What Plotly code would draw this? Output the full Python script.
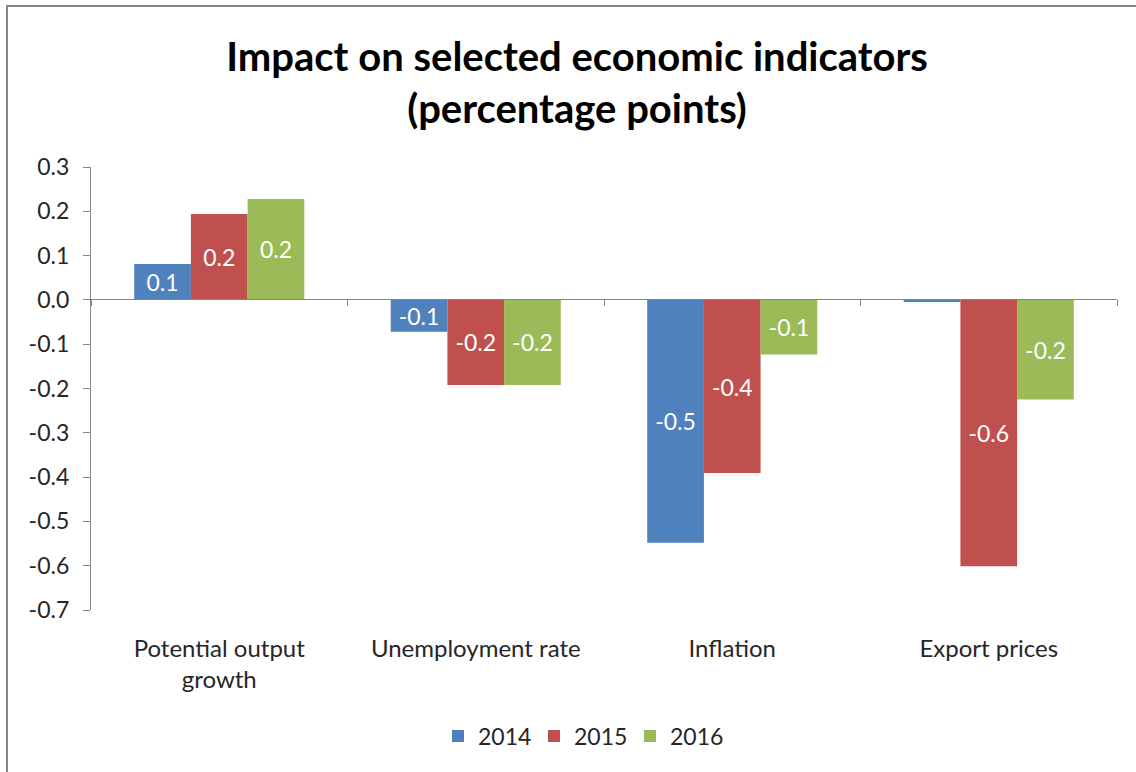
import plotly.graph_objects as go

categories = ["Potential output<br>growth", "Unemployment rate", "Inflation", "Export prices"]
years = ["2014", "2015", "2016"]
values_2014 = [0.081, -0.072, -0.548, -0.005]
values_2015 = [0.194, -0.192, -0.391, -0.601]
values_2016 = [0.228, -0.192, -0.123, -0.225]
series = [values_2014, values_2015, values_2016]
colors = ["#4F81BD", "#C0504D", "#9BBB59"]
ytick_vals = [0.3, 0.2, 0.1, 0.0, -0.1, -0.2, -0.3, -0.4, -0.5, -0.6, -0.7]
ytick_text = ["0.3", "0.2", "0.1", "0.0", "-0.1", "-0.2", "-0.3", "-0.4", "-0.5", "-0.6", "-0.7"]

FONT = "Lato"
AXIS_GRAY = "#868686"
TEXT = "#262626"
W, H = 1136, 772

fig = go.Figure()
for name, vals, col in zip(years, series, colors):
    labels = [f"{v:.1f}" if abs(v) >= 0.05 else "" for v in vals]
    fig.add_trace(go.Bar(
        x=categories, y=vals, name=name,
        marker=dict(color=col, line=dict(width=0)),
        text=labels, textposition="inside", insidetextanchor="middle",
        textfont=dict(family=FONT, size=23, color="white"),
        constraintext="none", cliponaxis=False,
    ))

# helper trace to build the zero-line axis with boundary ticks
fig.add_trace(go.Scatter(
    x=categories, y=[0] * len(categories), xaxis="x2", yaxis="y",
    mode="markers", marker=dict(opacity=0), showlegend=False, hoverinfo="skip",
))

# helper trace so the frame axes (x3/y3) are drawn
fig.add_trace(go.Scatter(
    x=[0.5], y=[0.5], xaxis="x3", yaxis="y3",
    mode="markers", marker=dict(opacity=0), showlegend=False, hoverinfo="skip",
))

plot_left, plot_right, plot_top, plot_bottom = 91, 1117, 167, 610
dom_x = [plot_left / W, plot_right / W]
dom_y = [1 - plot_bottom / H, 1 - plot_top / H]
zero_pos = 1 - 299 / H

fig.update_layout(
    width=W, height=H,
    margin=dict(l=0, r=0, t=0, b=0),
    paper_bgcolor="white", plot_bgcolor="rgba(0,0,0,0)",
    barmode="group", bargap=0.337, bargroupgap=0,
    title=dict(
        text="Impact on selected economic indicators<br>(percentage points)",
        font=dict(family=FONT, size=40, color="black", weight="bold"),
        x=0.508, xanchor="center", y=0.908, yanchor="middle",
    ),
    font=dict(family=FONT, size=23, color=TEXT),
    xaxis=dict(
        domain=dom_x, anchor="y",
        type="category", showline=False, ticks="", showgrid=False, zeroline=False,
        tickfont=dict(family=FONT, size=24, color=TEXT),
        ticklabelstandoff=22, automargin=False,
    ),
    xaxis2=dict(
        domain=dom_x,
        type="category", overlaying="x", anchor="free", position=zero_pos, side="bottom",
        showline=True, linecolor=AXIS_GRAY, linewidth=1.3,
        ticks="outside", ticklen=6, tickcolor=AXIS_GRAY, tickwidth=1.3,
        tickson="boundaries", showticklabels=False, showgrid=False, zeroline=False,
        matches="x", automargin=False,
    ),
    yaxis=dict(
        domain=dom_y, anchor="x",
        range=[-0.7, 0.3], tickvals=ytick_vals, ticktext=ytick_text,
        showline=True, linecolor=AXIS_GRAY, linewidth=1.3,
        ticks="outside", ticklen=7, tickcolor=AXIS_GRAY, tickwidth=1.3,
        showgrid=False, zeroline=False,
        tickfont=dict(family=FONT, size=23, color=TEXT),
        ticklabelstandoff=9, automargin=False,
    ),
    # chart-area frame (left and top edges) drawn as axis lines
    xaxis3=dict(
        domain=[8 / W, 1.0], anchor="y3", side="top", range=[0, 1],
        showline=True, linecolor=AXIS_GRAY, linewidth=2,
        showticklabels=False, ticks="", showgrid=False, zeroline=False,
        fixedrange=True, automargin=False,
    ),
    yaxis3=dict(
        domain=[0.0, 1 - 7 / H], anchor="x3", side="left", range=[0, 1],
        showline=True, linecolor=AXIS_GRAY, linewidth=2,
        showticklabels=False, ticks="", showgrid=False, zeroline=False,
        fixedrange=True, automargin=False,
    ),
    legend=dict(
        orientation="h", x=582 / W, xanchor="center", y=1 - 736 / H, yanchor="middle",
        font=dict(family=FONT, size=23, color=TEXT),
        traceorder="normal", entrywidth=51,
    ),
)

fig.write_html("out.html")
